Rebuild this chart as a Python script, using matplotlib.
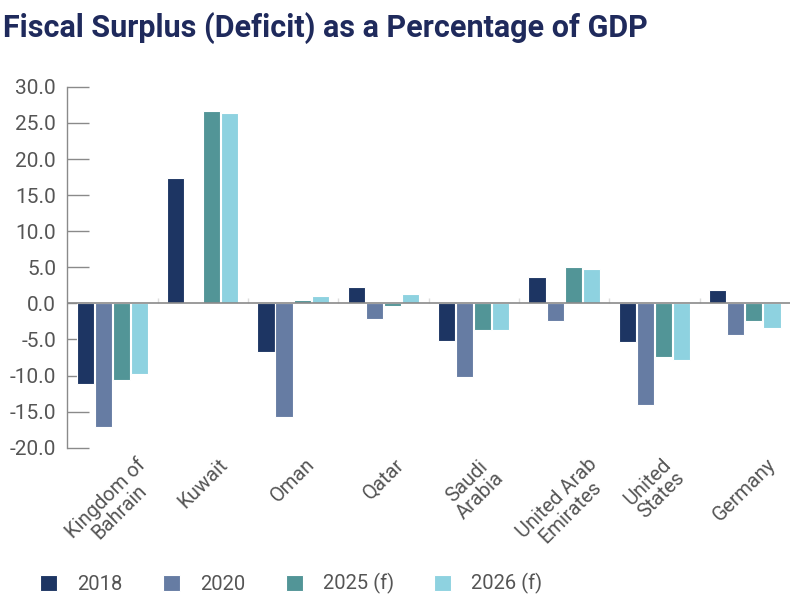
import numpy as np
import matplotlib
matplotlib.use('Agg')
import matplotlib.pyplot as plt

countries = ['Kingdom of\nBahrain', 'Kuwait', 'Oman', 'Qatar', 'Saudi\nArabia',
             'United Arab\nEmirates', 'United\nStates', 'Germany']
series = ['2018', '2020', '2025 (f)', '2026 (f)']
v2018 = [-11.2, 17.4, -6.7, 2.3, -5.2, 3.7, -5.3, 1.9]
v2020 = [-17.2, 0.1, -15.7, -2.1, -10.2, -2.4, -14.1, -4.4]
v2025 = [-10.6, 26.7, 0.4, -0.3, -3.7, 5.1, -7.4, -2.5]
v2026 = [-9.8, 26.4, 1.0, 1.3, -3.7, 4.8, -7.9, -3.4]
colors = ['#1d3563', '#667ca3', '#529597', '#8ed2e0']

plt.rcParams['font.family'] = ['Roboto', 'DejaVu Sans']

fig = plt.figure(figsize=(8, 6.12), dpi=100)
ax = fig.add_axes([0.084, 0.2685, 0.9035, 0.5895])

x = np.arange(len(countries))
for j, vals in enumerate([v2018, v2020, v2025, v2026]):
    ax.bar(x + (j - 1.5) * 0.2, vals, 0.19, color=colors[j], edgecolor='white',
           linewidth=0.8, label=series[j], zorder=2)

ax.axhline(0, color='#8a8a8a', linewidth=1.2, zorder=3)
ax.vlines(np.arange(1, len(countries)) - 0.5, 0, 0.8, color='#dddddd', linewidth=1, zorder=1)

ax.set_xlim(-0.5, len(countries) - 0.5)
ax.set_ylim(-20, 30)
ax.set_yticks(np.arange(-20, 31, 5))
ax.set_yticklabels(['%.1f' % t for t in np.arange(-20, 31, 5)], fontsize=15, color='#555555')
ax.tick_params(axis='y', direction='in', length=16, width=1, color='#8a8a8a', pad=8)
ax.set_xticks(x)
ax.set_xticklabels(countries, rotation=45, ha='center', va='top', fontsize=14.5,
                   color='#555555', multialignment='center', linespacing=1.0)
ax.tick_params(axis='x', length=0, pad=5)

for s in ['top', 'right', 'bottom']:
    ax.spines[s].set_visible(False)
ax.spines['left'].set_color('#8a8a8a')
ax.spines['left'].set_linewidth(1)

fig.text(0.004, 0.955, 'Fiscal Surplus (Deficit) as a Percentage of GDP', fontsize=22,
         fontweight='bold', color='#1f2a5c', ha='left', va='center')

fig.legend(loc='center left', bbox_to_anchor=(0.05, 0.046), ncol=4, frameon=False,
           fontsize=14.5, handlelength=0.85, handleheight=0.85, handletextpad=1.0,
           columnspacing=2.0, labelcolor='#555555', borderpad=0, borderaxespad=0)

fig.savefig('out.png', dpi=100)
